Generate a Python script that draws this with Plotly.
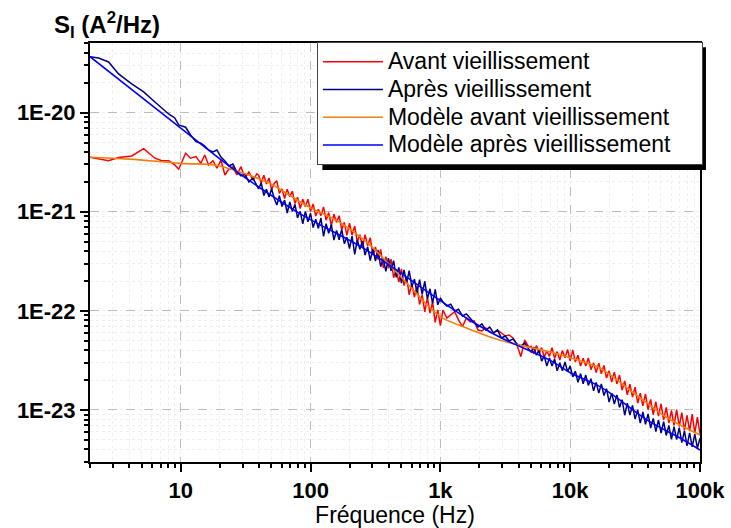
import plotly.graph_objects as go

# frequency grid of the measured spectra (Hz)
freq_low = [2.0, 2.33, 2.78, 3.32, 4.19, 5.18, 6.29, 7.13, 8.07, 8.99, 9.65, 10.9, 11.9, 13.1, 14.3,
            15.3, 16.4, 17.7, 19.0, 20.4, 21.9, 23.5, 25.2, 27.1, 29.1, 31.2, 33.5, 36.0, 38.6]
freq_band = [39.8, 41.7, 43.7, 45.7, 47.9, 50.1, 52.5, 55.0, 57.5, 60.3, 63.1, 66.1, 69.2, 72.4, 75.9,
             79.4, 83.2, 87.1, 91.2, 95.5, 100, 104.7, 109.6, 114.8, 120.2, 125.9, 131.8, 138.0, 144.5,
             151.4, 158.5, 166.0, 173.8, 182.0, 190.5, 199.5, 208.9, 218.8, 229.1, 239.9, 251.2, 263.0,
             275.4, 288.4, 302.0, 316.2, 331.1, 346.7, 363.1, 380.2, 398.1, 416.9, 436.5, 457.1, 478.6,
             501.2, 524.8, 549.5, 575.4, 602.6, 631.0, 660.7, 691.8, 724.4, 758.6, 794.3, 831.8, 871.0,
             912.0, 955.0, 1000]
freq_mid = [1047, 1122, 1202, 1288, 1380, 1479, 1585, 1698, 1820, 1950, 2089, 2239, 2399, 2570, 2754,
            2951, 3162, 3388, 3631, 3890, 4169, 4467, 4786]
freq_high = [5012, 5248, 5495, 5754, 6026, 6310, 6607, 6918, 7244, 7586, 7943, 8318, 8710, 9120, 9550,
             10000, 10470, 10960, 11480, 12020, 12590, 13180, 13800, 14450, 15140, 15850, 16600, 17380,
             18200, 19050, 19950, 20890, 21880, 22910, 23990, 25120, 26300, 27540, 28840, 30200, 31620,
             33110, 34670, 36310, 38020, 39810, 41690, 43650, 45710, 47860, 50120, 52480, 54950, 57540,
             60260, 63100, 66070, 69180, 72440, 75860, 79430, 83180, 87100, 91200, 95500, 100000]

# S_I (A^2/Hz) before ageing
avant_low = [3.55e-21, 3.41e-21, 3.28e-21, 3.53e-21, 3.66e-21, 4.34e-21, 3.49e-21, 3.28e-21, 3.28e-21,
             2.97e-21, 2.69e-21, 3.89e-21, 3.47e-21, 3.60e-21, 3.08e-21, 3.74e-21, 2.97e-21, 3.28e-21,
             2.75e-21, 3.33e-21, 2.35e-21, 2.70e-21, 2.85e-21, 2.35e-21, 2.85e-21, 2.19e-21, 2.52e-21,
             2.09e-21, 2.41e-21]
avant_band = [2.34e-21, 1.95e-21, 2.34e-21, 1.91e-21, 2.19e-21, 1.67e-21, 1.94e-21, 2.05e-21, 1.53e-21,
              1.70e-21, 1.36e-21, 1.69e-21, 1.42e-21, 1.61e-21, 1.21e-21, 1.40e-21, 1.08e-21, 1.34e-21,
              1.13e-21, 1.34e-21, 1.01e-21, 1.20e-21, 9.06e-22, 1.06e-21, 9.14e-22, 1.12e-21, 8.22e-22,
              9.82e-22, 7.23e-22, 9.46e-22, 7.82e-22, 9.12e-22, 6.62e-22, 7.80e-22, 5.79e-22, 7.66e-22,
              5.82e-22, 7.18e-22, 4.98e-22, 5.86e-22, 4.36e-22, 5.89e-22, 4.53e-22, 5.48e-22, 3.65e-22,
              4.42e-22, 3.30e-22, 4.17e-22, 2.71e-22, 3.52e-22, 2.69e-22, 3.33e-22, 2.16e-22, 2.61e-22,
              1.95e-22, 2.65e-22, 1.80e-22, 2.19e-22, 1.45e-22, 1.88e-22, 1.38e-22, 1.78e-22, 1.16e-22,
              1.45e-22, 9.77e-23, 1.36e-22, 9.48e-23, 1.23e-22, 7.64e-23, 1.02e-22, 7.08e-23]
avant_mid = [1.02e-22, 8.48e-23, 9.10e-23, 9.82e-23, 8.11e-23, 6.93e-23, 8.42e-23, 7.73e-23, 7.91e-23,
             6.41e-23, 6.27e-23, 6.71e-23, 6.12e-23, 5.98e-23, 6.41e-23, 5.98e-23, 5.58e-23, 5.71e-23,
             5.33e-23, 4.54e-23, 3.45e-23, 5.08e-23, 4.32e-23]
avant_high = [4.39e-23, 3.68e-23, 4.47e-23, 3.75e-23, 4.25e-23, 3.40e-23, 3.94e-23, 3.48e-23, 4.24e-23,
              3.33e-23, 3.88e-23, 3.19e-23, 3.98e-23, 3.36e-23, 4.08e-23, 3.14e-23, 4.04e-23, 3.05e-23,
              3.57e-23, 2.77e-23, 3.33e-23, 2.78e-23, 3.35e-23, 2.55e-23, 2.99e-23, 2.38e-23, 2.97e-23,
              2.32e-23, 2.82e-23, 2.10e-23, 2.49e-23, 1.91e-23, 2.41e-23, 1.83e-23, 2.25e-23, 1.59e-23,
              1.96e-23, 1.42e-23, 1.82e-23, 1.35e-23, 1.70e-23, 1.17e-23, 1.48e-23, 1.10e-23, 1.45e-23,
              1.01e-23, 1.28e-23, 8.93e-24, 1.21e-23, 8.67e-24, 1.15e-23, 7.89e-24, 1.06e-23, 7.35e-24,
              9.89e-24, 6.98e-24, 1.01e-23, 6.81e-24, 9.42e-24, 6.22e-24, 8.81e-24, 6.11e-24, 9.06e-24,
              5.85e-24, 8.47e-24, 5.74e-24]

# S_I (A^2/Hz) after ageing
apres_low = [3.67e-20, 3.56e-20, 3.25e-20, 2.46e-20, 1.95e-20, 1.62e-20, 1.29e-20, 1.11e-20, 9.7e-21,
             8.85e-21, 7.52e-21, 7.13e-21, 5.96e-21, 5.10e-21, 4.91e-21, 4.61e-21, 4.20e-21, 4.01e-21,
             4.20e-21, 3.57e-21, 3.26e-21, 2.90e-21, 3.03e-21, 2.52e-21, 2.30e-21, 2.41e-21, 2.00e-21,
             2.19e-21, 1.82e-21]
apres_band = [1.70e-21, 1.96e-21, 1.46e-21, 1.69e-21, 1.41e-21, 1.71e-21, 1.36e-21, 1.17e-21, 1.45e-21,
              1.13e-21, 1.31e-21, 9.72e-22, 1.26e-21, 1.01e-21, 1.19e-21, 8.69e-22, 1.01e-21, 7.55e-22,
              1.01e-21, 7.94e-22, 9.66e-22, 6.93e-22, 8.43e-22, 6.79e-22, 8.65e-22, 5.66e-22, 7.57e-22,
              6.08e-22, 7.41e-22, 5.19e-22, 6.47e-22, 5.20e-22, 6.64e-22, 4.76e-22, 5.53e-22, 4.26e-22,
              5.68e-22, 3.72e-22, 5.19e-22, 4.18e-22, 5.09e-22, 3.65e-22, 4.43e-22, 3.22e-22, 4.27e-22,
              3.18e-22, 4.11e-22, 2.79e-22, 3.37e-22, 2.51e-22, 3.40e-22, 2.54e-22, 3.21e-22, 2.18e-22,
              2.75e-22, 1.91e-22, 2.59e-22, 1.93e-22, 2.55e-22, 1.74e-22, 2.09e-22, 1.52e-22, 2.07e-22,
              1.47e-22, 1.99e-22, 1.32e-22, 1.67e-22, 1.19e-22, 1.65e-22, 1.15e-22, 1.35e-22]
apres_mid = [1.23e-22, 1.12e-22, 1.17e-22, 9.98e-23, 1.04e-22, 8.89e-23, 9.31e-23, 8.48e-23, 7.73e-23,
             6.87e-23, 7.38e-23, 6.41e-23, 6.87e-23, 5.98e-23, 6.41e-23, 5.33e-23, 5.58e-23, 4.97e-23,
             5.21e-23, 4.63e-23, 4.43e-23, 4.74e-23, 4.13e-23]
apres_high = [3.83e-23, 4.30e-23, 3.57e-23, 4.01e-23, 3.11e-23, 3.49e-23, 2.78e-23, 3.34e-23, 2.78e-23,
              3.27e-23, 2.48e-23, 2.99e-23, 2.48e-23, 3.05e-23, 2.43e-23, 2.79e-23, 2.16e-23, 2.47e-23,
              1.90e-23, 2.33e-23, 1.84e-23, 2.25e-23, 1.77e-23, 2.07e-23, 1.56e-23, 1.90e-23, 1.48e-23,
              1.83e-23, 1.40e-23, 1.64e-23, 1.20e-23, 1.48e-23, 1.15e-23, 1.42e-23, 1.06e-23, 1.27e-23,
              8.85e-24, 1.17e-23, 8.89e-24, 1.11e-23, 8.09e-24, 1.00e-23, 7.36e-24, 9.57e-24, 7.16e-24,
              9.14e-24, 6.58e-24, 8.22e-24, 6.05e-24, 7.93e-24, 5.83e-24, 7.64e-24, 5.53e-24, 6.97e-24,
              5.04e-24, 6.79e-24, 5.02e-24, 6.62e-24, 4.68e-24, 6.15e-24, 4.35e-24, 5.86e-24, 4.24e-24,
              5.70e-24, 4.12e-24, 5.18e-24]

# fitted models
model_avant_f = [2, 4, 10, 18.5, 28, 48, 68, 97, 166, 268, 482, 867, 1035, 1585, 2855, 5130, 6920,
                 10090, 16030, 21300, 28800, 39000, 51800, 70100, 100000]
model_avant_s = [3.55e-21, 3.40e-21, 3.08e-21, 2.95e-21, 2.54e-21, 1.95e-21, 1.48e-21, 1.12e-21, 7.9e-22,
                 4.99e-22, 2.30e-22, 1.02e-22, 8.5e-23, 6.73e-23, 5.08e-23, 4.22e-23, 3.87e-23, 3.35e-23,
                 2.74e-23, 2.17e-23, 1.59e-23, 1.18e-23, 8.9e-24, 7.06e-24, 5.6e-24]
model_apres_f = [2, 10, 28, 81.5, 268, 981, 1585, 2855, 6920, 10090, 16030, 21300, 39000, 70100, 100000]
model_apres_s = [3.67e-20, 6.97e-21, 2.46e-21, 9.7e-22, 4.12e-22, 1.29e-22, 8.48e-23, 5.45e-23, 3.2e-23,
                 2.36e-23, 1.79e-23, 1.42e-23, 7.93e-24, 5.21e-24, 3.95e-24]

x_ticks = [10, 100, 1000, 10000, 100000]
x_labels = ["10", "100", "1k", "10k", "100k"]
y_ticks = [1e-20, 1e-21, 1e-22, 1e-23]
y_labels = ["1E-20", "1E-21", "1E-22", "1E-23"]

freq = freq_low + freq_band + freq_mid + freq_high
avant = avant_low + avant_band + avant_mid + avant_high
apres = apres_low + apres_band + apres_mid + apres_high

FONT = "Liberation Sans, Arial, sans-serif"


def entry(label, pad=0):
    # legend text drawn larger than the legend's own font so the rows stay tight
    return '<span style="font-size:23px">' + label + "\u00a0" * pad + "</span>"


fig = go.Figure()
fig.add_trace(go.Scatter(x=freq, y=avant, mode="lines", name=entry("Avant vieillissement"),
                         line=dict(color="#FF0000", width=1.5)))
fig.add_trace(go.Scatter(x=freq, y=apres, mode="lines", name=entry("Après vieillissement"),
                         line=dict(color="#000080", width=1.5)))
fig.add_trace(go.Scatter(x=model_avant_f, y=model_avant_s, mode="lines",
                         name=entry("Modèle avant vieillissement"),
                         line=dict(color="#EE8010", width=1.6, shape="spline", smoothing=1)))
fig.add_trace(go.Scatter(x=model_apres_f, y=model_apres_s, mode="lines",
                         name=entry("Modèle après vieillissement", 4),
                         line=dict(color="#0000FF", width=1.6, shape="spline", smoothing=1)))

axis_common = dict(
    type="log", automargin=False, showline=True, linecolor="black", linewidth=2, mirror=True,
    ticks="outside", ticklen=8, tickwidth=1.5, tickcolor="black",
    showgrid=True, gridcolor="#BDBDBD", griddash="dash", gridwidth=1,
    minor=dict(ticks="outside", ticklen=4, tickcolor="black", dtick="D1",
               showgrid=True, gridcolor="#EEEEEE", griddash="dot"),
    zeroline=False,
    tickfont=dict(family=FONT, size=22, color="black", weight="bold"),
)

fig.update_xaxes(axis_common, range=[0.30103, 5], tickvals=x_ticks, ticktext=x_labels,
                 title=dict(text="Fréquence (Hz)", font=dict(family=FONT, size=23, color="black"), standoff=2))
fig.update_yaxes(axis_common, range=[-23.525, -19.297], tickvals=y_ticks, ticktext=y_labels)

fig.add_annotation(text="<b>S<sub>I</sub> (A<sup>2</sup>/Hz)</b>", xref="paper", yref="paper",
                   x=-0.063, y=1.043, xanchor="left", yanchor="middle", showarrow=False,
                   font=dict(family=FONT, size=24, color="black"))

# legend drop shadow
fig.add_shape(type="rect", xref="paper", yref="paper", x0=0.381, x1=1.0098, y0=0.697, y1=0.99,
              fillcolor="black", line=dict(width=0), layer="above")

fig.update_layout(
    width=731, height=528,
    margin=dict(l=90, r=31, t=43, b=66),
    paper_bgcolor="white", plot_bgcolor="white",
    font=dict(family=FONT, color="black"),
    showlegend=True,
    legend=dict(x=0.372, y=1.0024, xanchor="left", yanchor="top",
                bgcolor="white", bordercolor="#444444", borderwidth=1,
                font=dict(family=FONT, size=19, color="black"),
                itemwidth=60, tracegroupgap=0),
)

# the page body has a default 8px margin; drop it so the figure sits at the window corner
fig.write_html("out.html", config={"displayModeBar": False},
               post_script="document.body.style.margin='0';")
